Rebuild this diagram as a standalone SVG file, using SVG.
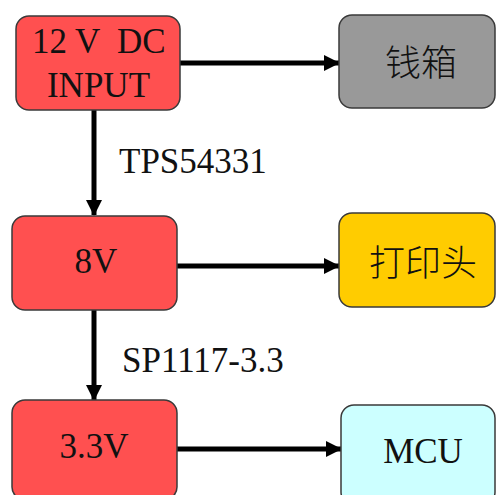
<svg xmlns="http://www.w3.org/2000/svg" width="496" height="495" viewBox="0 0 496 495">
  <style>
    .box { stroke: #3a3a3a; stroke-width: 1.5; }
    .red { fill: #ff5050; }
    .gray { fill: #999999; }
    .yellow { fill: #ffcc00; }
    .cyan { fill: #ccffff; }
    .lat { font-family: "Liberation Serif", "Times New Roman", serif; font-size: 35px; fill: #111; }
    .cjk { font-family: "Noto Sans CJK SC", "Noto Sans", sans-serif; font-size: 36px; font-weight: 300; fill: #111; }
    .wire { stroke: #000; stroke-width: 5; fill: none; marker-end: url(#head); }
  </style>
  <defs>
    <marker id="head" markerUnits="userSpaceOnUse" markerWidth="16" markerHeight="16" refX="15" refY="8" orient="auto">
      <path d="M0,0 L16,8 L0,16 Z" fill="#000"/>
    </marker>
  </defs>
  <rect width="496" height="495" fill="#fff"/>

  <g id="connectors">
    <line class="wire" x1="180" y1="63" x2="339" y2="63"/>
    <line class="wire" x1="177" y1="266" x2="339" y2="266"/>
    <line class="wire" x1="177" y1="449" x2="341" y2="449"/>
    <line class="wire" x1="94" y1="110" x2="94" y2="215"/>
    <line class="wire" x1="94" y1="310" x2="94" y2="400"/>
    <text class="lat" x="119" y="173">TPS54331</text>
    <text class="lat" x="122" y="372">SP1117-3.3</text>
  </g>

  <g id="input12v">
    <rect class="box red" x="16" y="16" width="164" height="94" rx="13"/>
    <text class="lat" y="53"><tspan x="32">12 V</tspan><tspan x="117">DC</tspan></text>
    <text class="lat" x="98.5" y="97" text-anchor="middle">INPUT</text>
  </g>

  <g id="cashbox">
    <rect class="box gray" x="339" y="15" width="156" height="93" rx="13"/>
    <text class="cjk" x="421" y="76" text-anchor="middle">钱箱</text>
  </g>

  <g id="v8">
    <rect class="box red" x="12" y="216" width="165" height="94" rx="13"/>
    <text class="lat" x="96" y="273" text-anchor="middle">8V</text>
  </g>

  <g id="printhead">
    <rect class="box yellow" x="339" y="213" width="156" height="94" rx="13"/>
    <text class="cjk" x="423" y="276" text-anchor="middle">打印头</text>
  </g>

  <g id="v33">
    <rect class="box red" x="12" y="400" width="165" height="100" rx="13"/>
    <text class="lat" x="94" y="458" text-anchor="middle">3.3V</text>
  </g>

  <g id="mcu">
    <rect class="box cyan" x="341" y="405" width="154" height="100" rx="13"/>
    <text class="lat" x="423" y="463" text-anchor="middle">MCU</text>
  </g>
</svg>
